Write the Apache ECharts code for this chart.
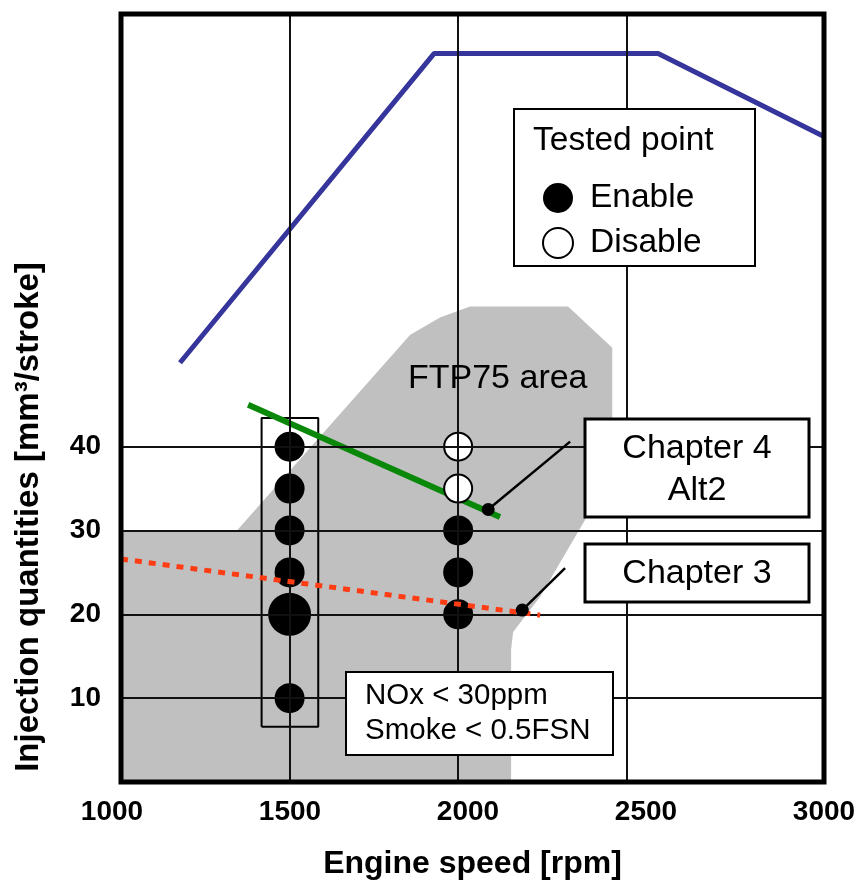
<!DOCTYPE html>
<html>
<head>
<meta charset="utf-8">
<title>Injection quantities vs engine speed</title>
<script src="https://cdn.jsdelivr.net/npm/echarts@6/dist/echarts.min.js"></script>
<style>
  html, body { margin: 0; padding: 0; background: #fff; }
  #chart { width: 864px; height: 890px; }
</style>
</head>
<body>
<div id="chart"></div>
<script>
// Axis ticks
const xTicks = [1000, 1500, 2000, 2500, 3000];
const yTicks = [10, 20, 30, 40];
const gridSpeeds = [1500, 2000, 2500];
const gridQty = [10, 20, 30, 40];

// FTP75 operating area outline (engine speed, injection quantity)
const ftpSpeed = [1000, 1000, 1344, 1857, 1946, 2035, 2326, 2457, 2457, 2377, 2243, 2163, 2157, 2157];
const ftpQty   = [0, 30, 30, 53.3, 55.4, 56.7, 56.7, 51.8, 37.2, 31.3, 22.1, 17.9, 15.8, 0];

// Full-load curve
const fullLoadSpeed = [1175, 1929, 2593, 3085];
const fullLoadQty   = [50.0, 86.9, 86.9, 77.0];

// Chapter 4 Alt2 line
const alt2Speed = [1377, 2124];
const alt2Qty   = [45.0, 31.6];

// Chapter 3 line
const ch3Speed = [1000, 2243];
const ch3Qty   = [26.6, 19.9];

// Tested points
const enableSpeed  = [1500, 1500, 1500, 1500, 1500, 2000, 2000, 2000];
const enableQty    = [40, 35, 30, 25, 10, 30, 25, 20];
const mainPoint    = [1500, 20];
const disableSpeed = [2000, 2000];
const disableQty   = [40, 35];

// Frame around the 1500 rpm sweep
const sweepSpeed = [1417, 1585];
const sweepQty   = [6.6, 43.4];

// Callout leaders
const alt2Leader = [[2089, 32.5], [2332, 40.6]];
const ch3Leader  = [[2190, 20.5], [2317, 25.5]];

const FONT = "'Liberation Sans', Arial, sans-serif";
const zip = (xs, ys) => xs.map((x, i) => [x, ys[i]]);

const sweepBox = [
  [sweepSpeed[0], sweepQty[0]], [sweepSpeed[1], sweepQty[0]],
  [sweepSpeed[1], sweepQty[1]], [sweepSpeed[0], sweepQty[1]],
  [sweepSpeed[0], sweepQty[0]]
];

const chart = echarts.init(document.getElementById('chart'), null, { renderer: 'canvas' });

const option = {
  animation: false,
  backgroundColor: '#fff',
  textStyle: { fontFamily: FONT, color: '#000' },
  grid: [
    { left: 121, right: 40, top: 14, bottom: 108, show: true, z: 20,
      backgroundColor: 'rgba(0,0,0,0)', borderColor: '#000', borderWidth: 5 },
    { left: 112, right: 40, top: 14, bottom: 108, show: false }
  ],
  xAxis: [
    { type: 'value', gridIndex: 0, min: 1000, max: 3085, interval: 500,
      axisLine: { show: false }, axisTick: { show: false }, splitLine: { show: false },
      axisLabel: { show: false },
      name: 'Engine speed [rpm]', nameLocation: 'middle', nameGap: 66,
      nameTextStyle: { fontFamily: FONT, fontSize: 32, fontWeight: 'bold', color: '#000' } },
    { type: 'value', gridIndex: 1, min: 1000, max: 3000, interval: 500,
      axisLine: { show: false }, axisTick: { show: false }, splitLine: { show: false },
      axisLabel: { fontFamily: FONT, fontSize: 28, fontWeight: 'bold', color: '#000', margin: 16,
        formatter: v => xTicks.includes(v) ? String(v) : '' } }
  ],
  yAxis: [
    { type: 'value', gridIndex: 0, min: 0, max: 91.6, interval: 10,
      axisLine: { show: false }, axisTick: { show: false }, splitLine: { show: false },
      axisLabel: { fontFamily: FONT, fontSize: 28, fontWeight: 'bold', color: '#000', margin: 20,
        formatter: v => yTicks.includes(v) ? String(v) : '' } },
    { type: 'value', gridIndex: 1, min: 0, max: 1, show: false }
  ],
  legend: {
    data: ['Enable', 'Disable'],
    orient: 'vertical', left: 542, top: 181, z: 60, padding: 0,
    itemWidth: 30, itemHeight: 30, itemGap: 11, icon: 'circle', selectedMode: false,
    textStyle: { fontFamily: FONT, fontSize: 33.5, lineHeight: 30, color: '#000', padding: [0, 0, 0, 12] }
  },
  series: [
    { type: 'custom', name: 'FTP75 area', z: 1, silent: true,
      data: zip(ftpSpeed, ftpQty),
      renderItem: (params, api) => {
        if (params.dataIndex !== 0) return null;
        const pts = ftpSpeed.map((x, i) => api.coord([x, ftpQty[i]]));
        return { type: 'polygon', shape: { points: pts }, style: { fill: '#c0c0c0' } };
      } },
    { type: 'line', name: 'grid', z: 2, silent: true, data: [],
      markLine: { silent: true, symbol: ['none', 'none'], label: { show: false },
        lineStyle: { color: '#111', width: 2, type: 'solid' },
        data: gridSpeeds.map(v => ({ xAxis: v })).concat(gridQty.map(v => ({ yAxis: v }))) } },
    { type: 'line', name: 'sweep', z: 3, silent: true, symbol: 'none',
      data: sweepBox, lineStyle: { color: '#000', width: 2 } },
    { type: 'line', name: 'Full load', z: 3, silent: true, symbol: 'none',
      data: zip(fullLoadSpeed, fullLoadQty), lineStyle: { color: '#35359c', width: 5 } },
    { type: 'line', name: 'Alt2', z: 3, silent: true, symbol: 'none',
      data: zip(alt2Speed, alt2Qty), lineStyle: { color: '#0a880a', width: 6 } },
    { type: 'scatter', name: 'Enable', z: 4, symbol: 'circle', symbolSize: 30,
      itemStyle: { color: '#000', opacity: 1 },
      data: zip(enableSpeed, enableQty).concat([{ value: mainPoint, symbolSize: 43 }]) },
    { type: 'scatter', name: 'Disable', z: 4, symbol: 'circle', symbolSize: 28,
      itemStyle: { color: '#fff', borderColor: '#000', borderWidth: 2, opacity: 1 },
      data: zip(disableSpeed, disableQty) },
    { type: 'line', name: 'Chapter 3', z: 5, silent: true, symbol: 'none',
      data: zip(ch3Speed, ch3Qty),
      lineStyle: { color: '#ff3c14', width: 5, type: [7, 7], cap: 'butt' } },
    { type: 'line', name: 'alt2 leader', z: 6, silent: true, symbol: 'none',
      data: alt2Leader, lineStyle: { color: '#000', width: 2.5 } },
    { type: 'line', name: 'ch3 leader', z: 6, silent: true, symbol: 'none',
      data: ch3Leader, lineStyle: { color: '#000', width: 2.5 } },
    { type: 'scatter', name: 'markers', z: 6, silent: true, symbolSize: 13,
      itemStyle: { color: '#000', opacity: 1 }, data: [alt2Leader[0], ch3Leader[0]] }
  ],
  graphic: [
    { type: 'text', x: 29, y: 517, rotation: Math.PI / 2, z: 50,
      style: { text: 'Injection quantities [mm³/stroke]', fill: '#000',
        font: "bold 33px " + FONT, align: 'center', verticalAlign: 'middle' } },
    { type: 'rect', z: 50, shape: { x: 514, y: 109, width: 241, height: 157 },
      style: { fill: '#fff', stroke: '#000', lineWidth: 2 } },
    { type: 'text', x: 533, y: 141, z: 51,
      style: { text: 'Tested point', fill: '#000', font: "33.5px " + FONT, align: 'left', verticalAlign: 'middle' } },
    { type: 'text', x: 408, y: 379, z: 50,
      style: { text: 'FTP75 area', fill: '#000', font: "34px " + FONT, align: 'left', verticalAlign: 'middle' } },
    { type: 'rect', z: 50, shape: { x: 585, y: 419, width: 224, height: 98 },
      style: { fill: '#fff', stroke: '#000', lineWidth: 3 } },
    { type: 'text', x: 697, y: 470, z: 51,
      style: { text: 'Chapter 4\nAlt2', fill: '#000', font: "34px " + FONT, lineHeight: 42,
        align: 'center', verticalAlign: 'middle' } },
    { type: 'rect', z: 50, shape: { x: 585, y: 544, width: 224, height: 58 },
      style: { fill: '#fff', stroke: '#000', lineWidth: 3 } },
    { type: 'text', x: 697, y: 574, z: 51,
      style: { text: 'Chapter 3', fill: '#000', font: "34px " + FONT, align: 'center', verticalAlign: 'middle' } },
    { type: 'rect', z: 50, shape: { x: 346, y: 672, width: 267, height: 83 },
      style: { fill: '#fff', stroke: '#000', lineWidth: 2 } },
    { type: 'text', x: 365, y: 713, z: 51,
      style: { text: 'NOx < 30ppm\nSmoke < 0.5FSN', fill: '#000', font: "29.5px " + FONT, lineHeight: 35,
        align: 'left', verticalAlign: 'middle' } }
  ]
};

chart.setOption(option);
</script>
</body>
</html>
